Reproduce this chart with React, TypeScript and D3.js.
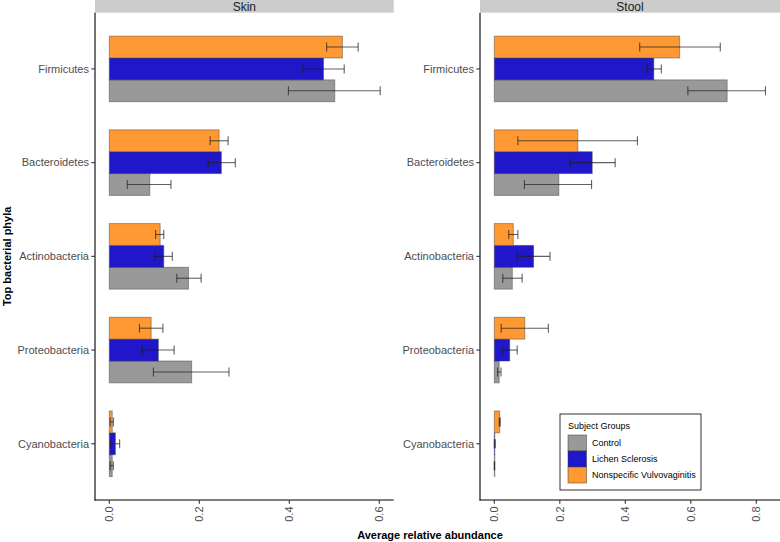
import React from "react";
import * as d3 from "d3";

const phyla = ["Firmicutes", "Bacteroidetes", "Actinobacteria", "Proteobacteria", "Cyanobacteria"];
const groups = ["Control", "Lichen Sclerosis", "Nonspecific Vulvovaginitis"];
const groupColors = ["#999999", "#1F17C9", "#FF9933"];
const sites = ["Skin", "Stool"];

// mean, lower, upper per phylum (order of phyla) for each group
const skinControl = [
  [0.501, 0.398, 0.602],
  [0.09, 0.04, 0.137],
  [0.176, 0.15, 0.204],
  [0.183, 0.098, 0.266],
  [0.0065, 0.002, 0.009],
];
const skinLichen = [
  [0.476, 0.43, 0.522],
  [0.249, 0.22, 0.28],
  [0.121, 0.101, 0.14],
  [0.109, 0.073, 0.144],
  [0.0135, 0.003, 0.023],
];
const skinNV = [
  [0.518, 0.483, 0.553],
  [0.244, 0.224, 0.264],
  [0.113, 0.103, 0.121],
  [0.093, 0.067, 0.119],
  [0.0065, 0.002, 0.009],
];
const stoolControl = [
  [0.711, 0.591, 0.828],
  [0.197, 0.092, 0.297],
  [0.055, 0.026, 0.085],
  [0.015, 0.01, 0.0205],
  [0.0005, 0.0, 0.001],
];
const stoolLichen = [
  [0.487, 0.466, 0.51],
  [0.299, 0.232, 0.369],
  [0.12, 0.07, 0.17],
  [0.047, 0.026, 0.07],
  [0.001, 0.0, 0.003],
];
const stoolNV = [
  [0.566, 0.444, 0.69],
  [0.255, 0.072, 0.437],
  [0.058, 0.044, 0.072],
  [0.093, 0.021, 0.165],
  [0.0165, 0.015, 0.018],
];
const skinTicks = [0, 0.2, 0.4, 0.6];
const stoolTicks = [0, 0.2, 0.4, 0.6, 0.8];
const skinMax = 0.602;
const stoolMax = 0.833;

const FONT = "'Liberation Sans', Arial, Helvetica, sans-serif";

export default function App() {
  const W = 780;
  const H = 542;
  const top = 12.7;
  const bottom = 500;

  const y = d3.scalePoint<string>().domain(phyla).range([top, bottom]).padding(0.6);
  const step = y.step();
  const dodge = d3
    .scaleBand<string>()
    .domain([...groups].reverse())
    .range([-0.35 * step, 0.35 * step])
    .padding(0);

  const panels = [
    {
      name: sites[0],
      data: [skinControl, skinLichen, skinNV],
      ticks: skinTicks,
      left: 95,
      x: d3.scaleLinear().domain([0, skinMax]).range([109.3, 109.3 + skinMax * 450]),
      right: 393.7,
    },
    {
      name: sites[1],
      data: [stoolControl, stoolLichen, stoolNV],
      ticks: stoolTicks,
      left: 480,
      x: d3.scaleLinear().domain([0, stoolMax]).range([494.3, 494.3 + stoolMax * 327.5]),
      right: 780,
    },
  ];

  const capH = 9;

  return (
    <svg
      width={W}
      height={H}
      style={{ position: "absolute", left: 0, top: 0, background: "#fff" }}
      fontFamily={FONT}
    >
      <rect x={0} y={0} width={W} height={H} fill="#fff" />
      {panels.map((p) => (
        <g key={p.name}>
          <rect x={p.left} y={0} width={p.right - p.left} height={top} fill="#CCCCCC" />
          <text
            x={(p.left + p.right) / 2}
            y={10.5}
            textAnchor="middle"
            fontSize={12}
            fill="#1a1a1a"
          >
            {p.name}
          </text>
          {phyla.map((ph, i) => (
            <g key={ph}>
              {groups.map((g, gi) => {
                const d = p.data[gi][i];
                const yy = y(ph)! + dodge(g)!;
                const bw = dodge.bandwidth();
                const x0 = p.x(0);
                return (
                  <rect
                    key={g}
                    x={x0}
                    y={yy}
                    width={Math.max(0.5, p.x(d[0]) - x0)}
                    height={bw}
                    fill={groupColors[gi]}
                    stroke="rgba(60,60,60,0.45)"
                    strokeWidth={1}
                  />
                );
              })}
              {groups.map((g, gi) => {
                const d = p.data[gi][i];
                const cy = y(ph)! + dodge(g)! + dodge.bandwidth() / 2;
                const x1 = p.x(d[1]);
                const x2 = p.x(d[2]);
                return (
                  <g key={g} stroke="rgba(30,30,30,0.7)" strokeWidth={1.1} fill="none">
                    <line x1={x1} x2={x2} y1={cy} y2={cy} />
                    <line x1={x1} x2={x1} y1={cy - capH / 2} y2={cy + capH / 2} />
                    <line x1={x2} x2={x2} y1={cy - capH / 2} y2={cy + capH / 2} />
                  </g>
                );
              })}
            </g>
          ))}
          {/* axes */}
          <line x1={p.left} x2={p.left} y1={top} y2={bottom + 0.5} stroke="#000" strokeWidth={1.1} />
          <line x1={p.left - 0.5} x2={p.right} y1={bottom} y2={bottom} stroke="#000" strokeWidth={1.1} />
          {phyla.map((ph) => (
            <g key={ph}>
              <line x1={p.left - 3.7} x2={p.left} y1={y(ph)} y2={y(ph)} stroke="#333" strokeWidth={1.1} />
              <text
                x={p.left - 6}
                y={y(ph)! + 3.8}
                textAnchor="end"
                fontSize={11}
                fill="#4D4D4D"
              >
                {ph}
              </text>
            </g>
          ))}
          {p.ticks.map((t) => (
            <g key={t}>
              <line x1={p.x(t)} x2={p.x(t)} y1={bottom} y2={bottom + 3.7} stroke="#333" strokeWidth={1.1} />
              <text
                transform={`translate(${p.x(t) + 3.8},${bottom + 6.5}) rotate(-90)`}
                textAnchor="end"
                fontSize={11}
                fill="#4D4D4D"
              >
                {d3.format(".1f")(t)}
              </text>
            </g>
          ))}
        </g>
      ))}
      {/* axis titles */}
      <text x={430} y={539} textAnchor="middle" fontSize={11} fontWeight="bold" fill="#000">
        Average relative abundance
      </text>
      <text
        transform={`translate(10.5,${(top + bottom) / 2}) rotate(-90)`}
        textAnchor="middle"
        fontSize={11}
        fontWeight="bold"
        fill="#000"
      >
        Top bacterial phyla
      </text>
      {/* legend */}
      <g>
        <rect x={560} y={414} width={141} height={76} fill="#fff" stroke="#000" strokeWidth={0.8} />
        <text x={568} y={429} fontSize={9} fill="#000">
          Subject Groups
        </text>
        {groups.map((g, gi) => (
          <g key={g}>
            <rect
              x={568}
              y={435 + gi * 16}
              width={18.5}
              height={16}
              fill={groupColors[gi]}
              stroke="rgba(60,60,60,0.5)"
              strokeWidth={1}
            />
            <text x={592} y={446 + gi * 16} fontSize={9} fill="#000">
              {g}
            </text>
          </g>
        ))}
      </g>
    </svg>
  );
}
